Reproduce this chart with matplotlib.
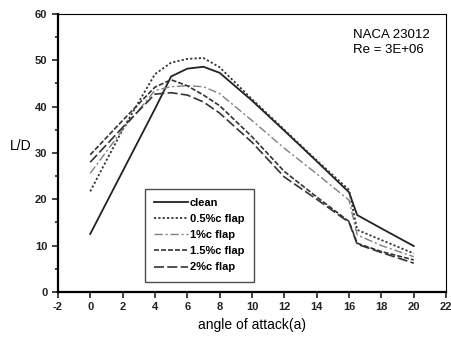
import matplotlib

matplotlib.use("Agg")
import matplotlib.pyplot as plt  # noqa: E402
from matplotlib.ticker import MultipleLocator  # noqa: E402

plt.rcParams["font.family"] = ["Liberation Sans", "DejaVu Sans"]
plt.rcParams["axes.unicode_minus"] = False

# angle of attack (deg)
alpha = [0, 2, 4, 5, 6, 7, 8, 10, 12, 14, 16, 16.5, 18, 20]

# L/D per configuration
clean = [12.5, 26, 39.5, 46.5, 48.2, 48.6, 47.3, 41.3, 34.8, 28.2, 21.5, 16.6, 13.7, 9.9]
flap_05 = [21.7, 35, 47, 49.5, 50.3, 50.5, 48.5, 41.6, 35, 28.4, 22, 13.4, 11.2, 8.3]
flap_1 = [25.6, 35, 43.5, 44.3, 44.5, 44.3, 42.8, 37, 31, 25.5, 19.8, 12.3, 10, 7.6]
flap_15 = [29.6, 37, 44.2, 45.8, 44.5, 42.5, 40.2, 33.5, 26, 20.5, 15.2, 10.5, 8.7, 6.9]
flap_2 = [28, 35.5, 42.7, 43, 42.5, 41, 38.6, 32.3, 24.8, 20, 15, 10.3, 8.5, 6.2]

labels = ["clean", "0.5%c flap", "1%c flap", "1.5%c flap", "2%c flap"]

fig = plt.figure(figsize=(4.52, 3.41), dpi=100)
ax = fig.add_axes([0.128, 0.144, 0.859, 0.815])

ax.plot(alpha, clean, color="#222222", lw=1.3, ls="-", label=labels[0])
ax.plot(alpha, flap_05, color="#333333", lw=1.3, ls=(0, (1.2, 1.2)), label=labels[1])
ax.plot(alpha, flap_1, color="#808080", lw=1.0, ls=(0, (6, 2, 1.5, 2)), label=labels[2])
ax.plot(alpha, flap_15, color="#333333", lw=1.2, ls=(0, (3, 1.2)), label=labels[3])
ax.plot(alpha, flap_2, color="#333333", lw=1.2, ls=(0, (6, 2)), label=labels[4])

ax.set_xlim(-2, 22)
ax.set_ylim(0, 60)
ax.xaxis.set_major_locator(MultipleLocator(2))
ax.yaxis.set_major_locator(MultipleLocator(10))
ax.yaxis.set_minor_locator(MultipleLocator(5))
ax.tick_params(axis="both", which="both", direction="out", labelsize=8,
               top=False, right=False, width=1.2, colors="#222222")
ax.tick_params(which="major", length=4)
ax.tick_params(which="minor", length=2.5)
for lab in ax.get_xticklabels() + ax.get_yticklabels():
    lab.set_fontweight("bold")

for side in ("left", "bottom"):
    ax.spines[side].set_linewidth(1.6)
for side in ("top", "right"):
    ax.spines[side].set_linewidth(0.8)

ax.set_xlabel("angle of attack(a)", fontsize=10, labelpad=4)
ax.set_ylabel("L/D", fontsize=10, rotation=0)
ax.yaxis.set_label_coords(-0.095, 0.5)

ax.text(0.76, 0.945, "NACA 23012\nRe = 3E+06", transform=ax.transAxes,
        fontsize=9.5, va="top", ha="left", linespacing=1.3)

leg = ax.legend(loc="lower left", bbox_to_anchor=(0.224, 0.036), borderaxespad=0,
                fancybox=False, edgecolor="#222222", handlelength=3.0,
                handletextpad=0.2, labelspacing=0.55, borderpad=0.85,
                prop={"weight": "bold", "size": 8})
leg.get_frame().set_linewidth(1.0)

fig.savefig("out.png", dpi=100)
